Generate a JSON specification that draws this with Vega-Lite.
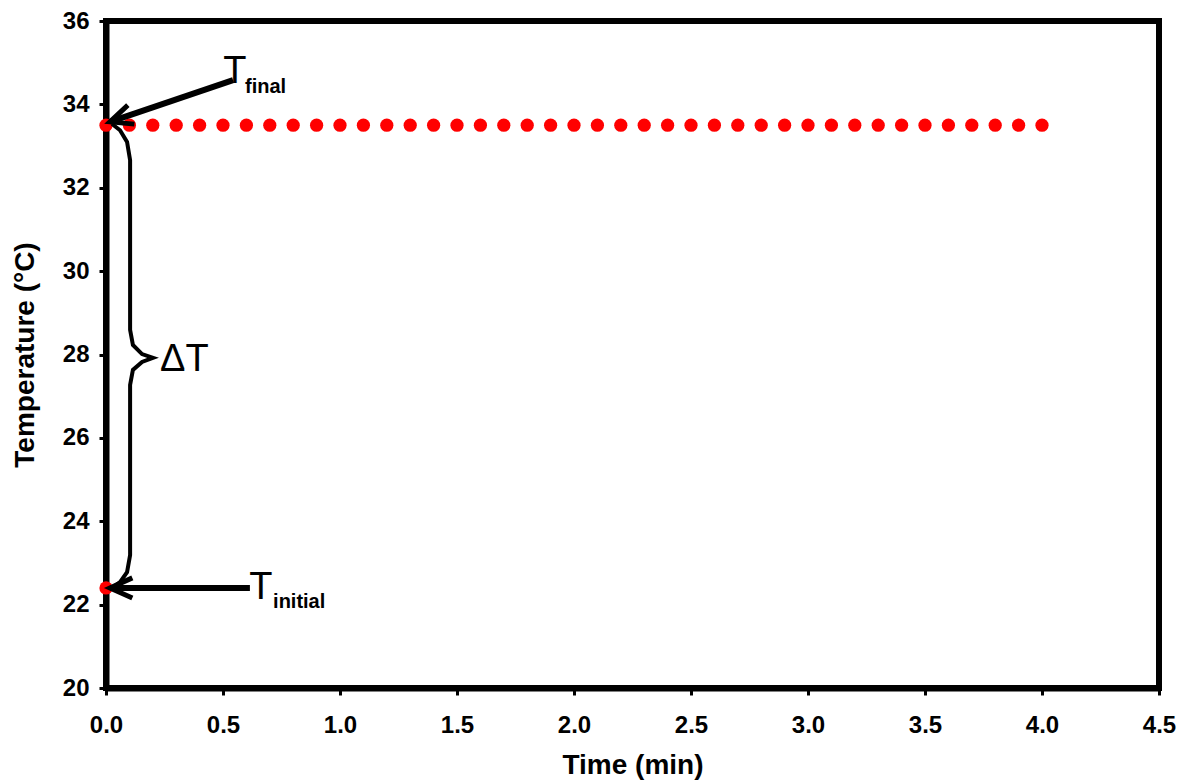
{
  "$schema": "https://vega.github.io/schema/vega-lite/v6.json",
  "width": 1053,
  "height": 667,
  "autosize": "none",
  "padding": {"left": 106, "top": 21, "right": 24, "bottom": 96},
  "background": "white",
  "config": {
    "view": {"stroke": "black", "strokeWidth": 6},
    "font": "Liberation Sans",
    "axis": {
      "domainColor": "black", "domainWidth": 6,
      "tickColor": "black", "tickWidth": 3, "tickSize": 7,
      "grid": false, "labelFlush": false,
      "labelFont": "Liberation Sans", "labelFontWeight": "bold", "labelFontSize": 24, "labelColor": "black",
      "titleFont": "Liberation Sans", "titleFontWeight": "bold", "titleFontSize": 28, "titleColor": "black"
    }
  },
  "datasets": {
    "series": [
      {"time": 0.0, "temp": 22.4},
      {"time": 0.0, "temp": 33.5},
      {"time": 0.1, "temp": 33.5},
      {"time": 0.2, "temp": 33.5},
      {"time": 0.3, "temp": 33.5},
      {"time": 0.4, "temp": 33.5},
      {"time": 0.5, "temp": 33.5},
      {"time": 0.6, "temp": 33.5},
      {"time": 0.7, "temp": 33.5},
      {"time": 0.8, "temp": 33.5},
      {"time": 0.9, "temp": 33.5},
      {"time": 1.0, "temp": 33.5},
      {"time": 1.1, "temp": 33.5},
      {"time": 1.2, "temp": 33.5},
      {"time": 1.3, "temp": 33.5},
      {"time": 1.4, "temp": 33.5},
      {"time": 1.5, "temp": 33.5},
      {"time": 1.6, "temp": 33.5},
      {"time": 1.7, "temp": 33.5},
      {"time": 1.8, "temp": 33.5},
      {"time": 1.9, "temp": 33.5},
      {"time": 2.0, "temp": 33.5},
      {"time": 2.1, "temp": 33.5},
      {"time": 2.2, "temp": 33.5},
      {"time": 2.3, "temp": 33.5},
      {"time": 2.4, "temp": 33.5},
      {"time": 2.5, "temp": 33.5},
      {"time": 2.6, "temp": 33.5},
      {"time": 2.7, "temp": 33.5},
      {"time": 2.8, "temp": 33.5},
      {"time": 2.9, "temp": 33.5},
      {"time": 3.0, "temp": 33.5},
      {"time": 3.1, "temp": 33.5},
      {"time": 3.2, "temp": 33.5},
      {"time": 3.3, "temp": 33.5},
      {"time": 3.4, "temp": 33.5},
      {"time": 3.5, "temp": 33.5},
      {"time": 3.6, "temp": 33.5},
      {"time": 3.7, "temp": 33.5},
      {"time": 3.8, "temp": 33.5},
      {"time": 3.9, "temp": 33.5},
      {"time": 4.0, "temp": 33.5}
    ],
    "arrows": [
      {"name": "final", "t0": 0.543, "v0": 34.58, "t1": 0.017, "v1": 33.58},
      {"name": "initial", "t0": 0.615, "v0": 22.4, "t1": 0.017, "v1": 22.4}
    ],
    "brace": [
      {"k": 1, "time": 0.026, "temp": 33.53},
      {"k": 2, "time": 0.060, "temp": 33.38},
      {"k": 3, "time": 0.090, "temp": 33.10},
      {"k": 4, "time": 0.103, "temp": 32.66},
      {"k": 5, "time": 0.103, "temp": 28.59},
      {"k": 6, "time": 0.115, "temp": 28.23},
      {"k": 7, "time": 0.154, "temp": 28.01},
      {"k": 8, "time": 0.201, "temp": 27.92},
      {"k": 9, "time": 0.154, "temp": 27.82},
      {"k": 10, "time": 0.115, "temp": 27.63},
      {"k": 11, "time": 0.103, "temp": 27.27},
      {"k": 12, "time": 0.103, "temp": 23.19},
      {"k": 13, "time": 0.090, "temp": 22.78},
      {"k": 14, "time": 0.060, "temp": 22.54},
      {"k": 15, "time": 0.026, "temp": 22.40}
    ],
    "bigT": [
      {"time": 0.551, "temp": 34.51, "label": "T"},
      {"time": 0.662, "temp": 22.13, "label": "T"}
    ],
    "subs": [
      {"time": 0.594, "temp": 34.27, "label": "final"},
      {"time": 0.714, "temp": 21.92, "label": "initial"}
    ],
    "delta": [
      {"time": 0.231, "temp": 27.60, "label": "ΔT"}
    ]
  },
  "encoding": {
    "x": {"field": "time", "type": "quantitative"},
    "y": {"field": "temp", "type": "quantitative"}
  },
  "layer": [
    {
      "data": {"name": "series"},
      "mark": {"type": "point", "shape": "circle", "filled": true, "color": "#ff0000", "size": 175, "opacity": 1},
      "encoding": {
        "x": {"field": "time", "type": "quantitative",
          "scale": {"domain": [0, 4.5], "nice": false, "zero": false},
          "axis": {"values": [0, 0.5, 1, 1.5, 2, 2.5, 3, 3.5, 4, 4.5], "format": ".1f", "labelPadding": 18, "title": "Time (min)", "titlePadding": 14}},
        "y": {"field": "temp", "type": "quantitative",
          "scale": {"domain": [20, 36], "nice": false, "zero": false},
          "axis": {"values": [20, 22, 24, 26, 28, 30, 32, 34, 36], "labelPadding": 10, "title": "Temperature (°C)", "titlePadding": 23}}
      }
    },
    {
      "data": {"name": "brace"},
      "mark": {"type": "line", "color": "black", "strokeWidth": 4, "interpolate": "linear"},
      "encoding": {
        "x": {"field": "time", "type": "quantitative"},
        "y": {"field": "temp", "type": "quantitative"},
        "order": {"field": "k", "type": "quantitative"}
      }
    },
    {
      "data": {"name": "arrows"},
      "mark": {"type": "rule", "color": "black", "strokeWidth": 6},
      "encoding": {
        "x": {"field": "t0", "type": "quantitative"},
        "y": {"field": "v0", "type": "quantitative"},
        "x2": {"field": "t1"},
        "y2": {"field": "v1"}
      }
    },
    {
      "data": {"name": "arrows"},
      "transform": [{"filter": "datum.name === 'final'"}],
      "mark": {"type": "point", "shape": "M -1 -0.45 L 0 0 L -1 0.45", "filled": false, "color": "black", "strokeWidth": 5, "size": 2000, "angle": 161, "opacity": 1},
      "encoding": {
        "x": {"field": "t1", "type": "quantitative"},
        "y": {"field": "v1", "type": "quantitative"}
      }
    },
    {
      "data": {"name": "arrows"},
      "transform": [{"filter": "datum.name === 'initial'"}],
      "mark": {"type": "point", "shape": "M -1 -0.45 L 0 0 L -1 0.45", "filled": false, "color": "black", "strokeWidth": 5, "size": 2000, "angle": 180, "opacity": 1},
      "encoding": {
        "x": {"field": "t1", "type": "quantitative"},
        "y": {"field": "v1", "type": "quantitative"}
      }
    },
    {
      "data": {"name": "bigT"},
      "mark": {"type": "text", "font": "Liberation Sans", "fontSize": 38, "align": "center", "baseline": "alphabetic", "color": "black"},
      "encoding": {
        "x": {"field": "time", "type": "quantitative"},
        "y": {"field": "temp", "type": "quantitative"},
        "text": {"field": "label"}
      }
    },
    {
      "data": {"name": "subs"},
      "mark": {"type": "text", "font": "Liberation Sans", "fontSize": 20, "fontWeight": "bold", "align": "left", "baseline": "alphabetic", "color": "black"},
      "encoding": {
        "x": {"field": "time", "type": "quantitative"},
        "y": {"field": "temp", "type": "quantitative"},
        "text": {"field": "label"}
      }
    },
    {
      "data": {"name": "delta"},
      "mark": {"type": "text", "font": "Liberation Sans", "fontSize": 38, "align": "left", "baseline": "alphabetic", "color": "black"},
      "encoding": {
        "x": {"field": "time", "type": "quantitative"},
        "y": {"field": "temp", "type": "quantitative"},
        "text": {"field": "label"}
      }
    }
  ]
}
